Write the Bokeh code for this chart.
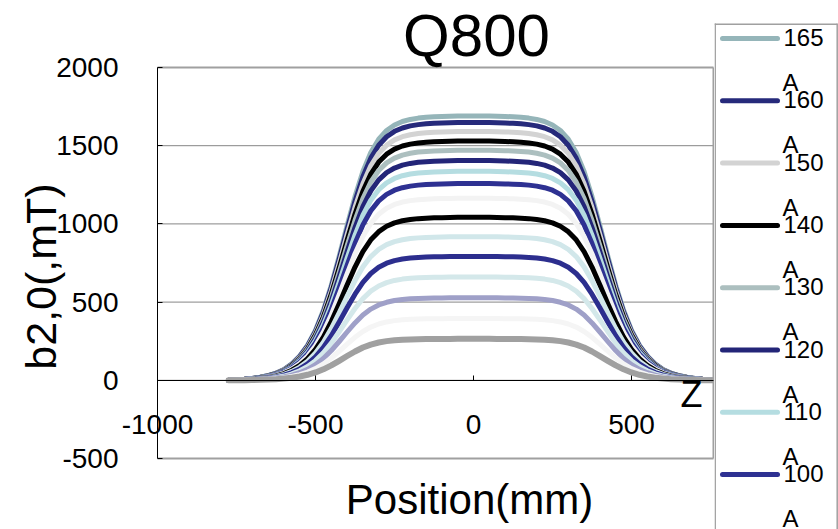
import math
import numpy as np
from bokeh.plotting import figure
from bokeh.models import Range1d, FixedTicker, Label, ColumnDataSource
from bokeh.layouts import row
from bokeh.embed import file_html
from bokeh.resources import INLINE
from bokeh.core.properties import value

# ---------------- data ----------------
currents = [165, 160, 150, 140, 130, 120, 110, 100, 90, 80, 70, 60, 50, 40, 30, 20]
plateau_mT = [1690, 1648, 1591, 1530, 1471, 1405, 1336, 1258, 1164, 1042, 918, 792, 661, 528, 395, 265]
colors = ["#95B5B9", "#262A7B", "#D3D3D3", "#000000", "#ACBFBF", "#232578", "#B5DDE1", "#2E3192",
          "#F3F3F3", "#000000", "#D1E7EA", "#2C2E8E", "#D4E8EA", "#9FA0C8", "#F5F5F5", "#A0A0A0"]

# normalised field profile, |position| = 0, 25, ..., 775 mm
half_positions = [0, 25, 50, 75, 100, 125, 150, 175, 200, 225, 250, 275, 300, 325, 350, 375,
                  400, 425, 450, 475, 500, 525, 550, 575, 600, 625, 650, 675, 700, 725, 750, 775]
half_profile = [1.000, 1.000, 1.000, 0.999, 0.998, 0.997, 0.995, 0.992, 0.987, 0.979, 0.966, 0.945,
                0.912, 0.862, 0.790, 0.695, 0.585, 0.470, 0.360, 0.265, 0.190, 0.133, 0.092, 0.062,
                0.041, 0.027, 0.018, 0.012, 0.007, 0.004, 0.002, 0.000]

x_ticks = [-1000, -500, 0, 500]
x_tick_labels = ["-1000", "-500", "0", "500"]
y_ticks = [-500, 0, 500, 1000, 1500, 2000]
y_tick_labels = ["-500", "0", "500", "1000", "1500", "2000"]

title_text = "Q800"
x_title = "Position(mm)"
y_title = "b2,0(,mT)"
unit_text = "A"

positions = [-p for p in half_positions[:0:-1]] + half_positions
profile = half_profile[:0:-1] + half_profile

FONT = "Liberation Sans"

# ---------------- layout (pixels) ----------------
W, H = 838, 529
MAIN_W = 714
PLOT_L, PLOT_R, PLOT_T, PLOT_B = 157, 713, 67, 458
X_MIN, Y_MIN, Y_MAX = x_ticks[0], y_ticks[0], y_ticks[-1]
SX = 316.0 / 1000.0                       # px per mm
SY = (PLOT_B - PLOT_T) / (Y_MAX - Y_MIN)  # px per mT


def px_x(px):
    return X_MIN + (px - PLOT_L) / SX


def px_y(py):
    return Y_MAX + (PLOT_T - py) / SY


x_right = px_x(PLOT_R)

# ---------------- main plot ----------------
p = figure(width=MAIN_W, height=H, x_range=Range1d(px_x(0), px_x(MAIN_W)),
           y_range=Range1d(px_y(H), px_y(0)), title_location=None,
           output_backend="svg", toolbar_location=None,
           min_border_left=0, min_border_right=0, min_border_top=0, min_border_bottom=0)
p.background_fill_color = "white"
p.border_fill_color = "white"
p.outline_line_color = None
p.xgrid.visible = False
p.ygrid.visible = False

# horizontal grid lines
grid_y = y_ticks[1:-1]
p.segment(x0=[X_MIN] * len(grid_y), y0=grid_y, x1=[x_right] * len(grid_y), y1=grid_y,
          line_color="#868686", line_width=1)

for cur, plat, col in zip(currents, plateau_mT, colors):
    src = ColumnDataSource(dict(x=positions, y=[plat * s for s in profile]))
    p.line("x", "y", source=src, line_color=col, line_width=6 if cur == 20 else 5,
           line_cap="round", line_join="round")

# plot-area border (top, right, bottom)
p.segment(x0=[X_MIN, x_right, X_MIN], y0=[Y_MAX, Y_MIN, Y_MIN],
          x1=[x_right, x_right, x_right], y1=[Y_MAX, Y_MAX, Y_MIN],
          line_color="#A0A0A0", line_width=2)

xa = p.xaxis[0]
xa.fixed_location = 0
xa.bounds = (X_MIN, x_right)
xa.ticker = FixedTicker(ticks=x_ticks)
xa.major_label_overrides = {t: l for t, l in zip(x_ticks, x_tick_labels)}
xa.axis_line_color = "black"
xa.axis_line_width = 1
xa.major_tick_in = 5
xa.major_tick_out = 0
xa.major_tick_line_color = "black"
xa.minor_tick_line_color = None
xa.major_label_standoff = 35
xa.major_label_text_font = FONT
xa.major_label_text_font_size = "28px"
xa.major_label_text_color = "black"

ya = p.yaxis[0]
ya.fixed_location = X_MIN
ya.bounds = (Y_MIN, Y_MAX)
ya.ticker = FixedTicker(ticks=y_ticks)
ya.major_label_overrides = {t: l for t, l in zip(y_ticks, y_tick_labels)}
ya.axis_line_color = "black"
ya.axis_line_width = 1
ya.major_tick_in = 5
ya.major_tick_out = 0
ya.major_tick_line_color = "black"
ya.minor_tick_line_color = None
ya.major_label_standoff = 39
ya.major_label_text_font = FONT
ya.major_label_text_font_size = "28px"
ya.major_label_text_color = "black"

# titles
p.add_layout(Label(x=px_x(476), y=px_y(35), text=title_text, text_align="center",
                   text_baseline="middle", text_font=FONT, text_font_size="60px",
                   text_color="black"))
p.add_layout(Label(x=px_x(469), y=px_y(499), text=x_title, text_align="center",
                   text_baseline="middle", text_font=FONT, text_font_size="42px",
                   text_color="black"))
p.add_layout(Label(x=px_x(40), y=px_y(276), text=y_title, text_align="center",
                   text_baseline="middle", angle=math.pi / 2, text_font=FONT,
                   text_font_size="43px", text_color="black"))
p.add_layout(Label(x=px_x(691), y=px_y(394), text="Z", text_align="center", text_baseline="middle",
                   text_font=FONT, text_font_size="36px", text_color="black"))

# ---------------- legend (separate panel, pixel coordinates, y downwards) ----------------
LEG_W = W - MAIN_W
LEG_T = 23
lg = figure(width=LEG_W, height=H, x_range=Range1d(0, LEG_W), y_range=Range1d(H, 0),
            title_location=None,
            output_backend="svg", toolbar_location=None, x_axis_type=None, y_axis_type=None,
            min_border_left=0, min_border_right=0, min_border_top=0, min_border_bottom=0)
lg.outline_line_color = None
lg.background_fill_color = "white"
lg.border_fill_color = "white"
lg.segment(x0=[0.7, 0, LEG_W - 1.3], y0=[LEG_T, LEG_T + 0.7, LEG_T],
           x1=[0.7, LEG_W - 1.3, LEG_W - 1.3], y1=[H, LEG_T + 0.7, H],
           line_color="#A0A0A0", line_width=1.5)

step = 62.3
items = [(c, col, LEG_T + 15 + i * step) for i, (c, col) in enumerate(zip(currents, colors))]
items = [it for it in items if it[2] < H]
ys = [it[2] for it in items]
lg.segment(x0=[8] * len(ys), y0=ys, x1=[63] * len(ys), y1=ys, line_color=[it[1] for it in items],
           line_width=5, line_cap="round")
lg.text(x=[69] * len(ys), y=[y - 1 for y in ys], text=[str(it[0]) for it in items], text_baseline="middle",
        text_align="left", text_font=value(FONT), text_font_size="24px", text_color="black")
lg.text(x=[68] * len(ys), y=[y + 44 for y in ys], text=[unit_text] * len(ys), text_baseline="middle",
        text_align="left", text_font=value(FONT), text_font_size="24px", text_color="black")

layout = row(p, lg)
open("out.html", "w").write(file_html(layout, INLINE))
